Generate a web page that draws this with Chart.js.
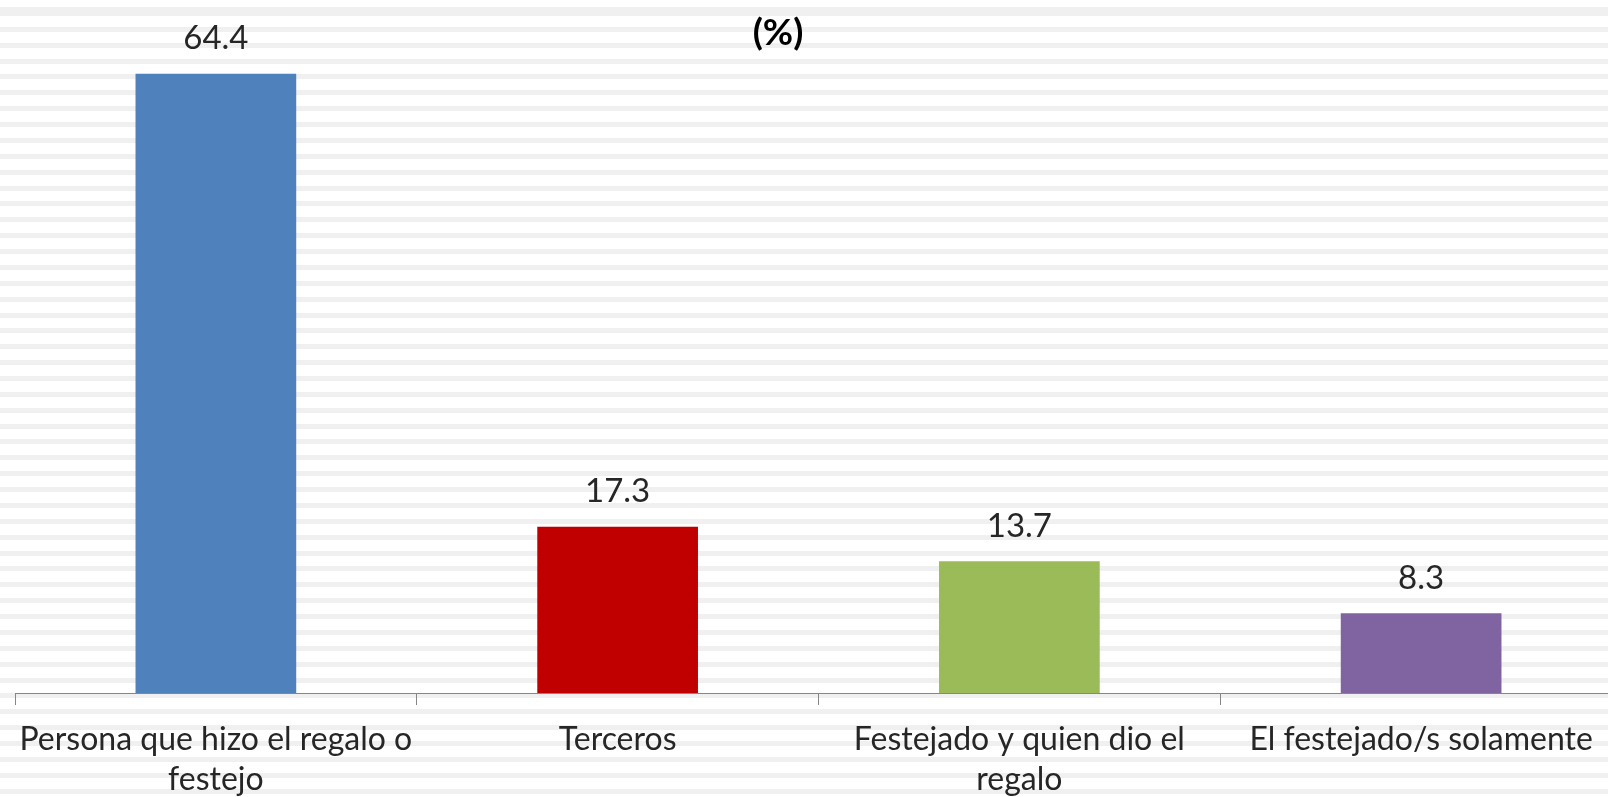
<!DOCTYPE html>
<html>
<head>
<meta charset="utf-8">
<script src="https://cdn.jsdelivr.net/npm/chart.js@4.4.0/dist/chart.umd.min.js"></script>
<style>
  html, body {
    margin: 0;
    padding: 0;
    width: 1608px;
    height: 797px;
    overflow: hidden;
    background-color: #fff;
    background-image: repeating-linear-gradient(to bottom, #f0f0f0 0px, #f0f0f0 5px, #fff 5px, #fff 15.87px);
    background-position: 0 11px;
  }
  #wrap { position: absolute; left: 0; top: 0; width: 1640px; height: 797px; }
</style>
</head>
<body>
<div id="wrap"><canvas id="barChart" width="1640" height="797"></canvas></div>
<script>
var categories = [
    ["Persona que hizo el regalo o", "festejo"],
    "Terceros",
    ["Festejado y quien dio el", "regalo"],
    "El festejado/s solamente"
];
var values = [64.4, 17.3, 13.7, 8.3];
var barColors = ["#4F81BD", "#C00000", "#9BBB59", "#8064A2"];
var chartTitle = "(%)";

var textColor = "#262626";
var fontFamily = "Lato, 'Open Sans', sans-serif";

// value labels above each bar
var valueLabels = {
    id: "valueLabels",
    afterDatasetsDraw: function (chart) {
        var ctx = chart.ctx;
        var meta = chart.getDatasetMeta(0);
        ctx.save();
        ctx.font = "33px " + fontFamily;
        ctx.fillStyle = textColor;
        ctx.textAlign = "center";
        ctx.textBaseline = "middle";
        meta.data.forEach(function (bar, i) {
            ctx.fillText(values[i].toFixed(1), bar.x, bar.y - 35);
        });
        ctx.restore();
    }
};

// small bold title, sits off-centre like the original
var topTitle = {
    id: "topTitle",
    afterDraw: function (chart) {
        var ctx = chart.ctx;
        ctx.save();
        ctx.font = "bold 37px " + fontFamily;
        ctx.fillStyle = "#000";
        ctx.textAlign = "center";
        ctx.textBaseline = "middle";
        ctx.fillText(chartTitle, 778, 33);
        ctx.restore();
    }
};

var ctx = document.getElementById("barChart").getContext("2d");
new Chart(ctx, {
    type: "bar",
    data: {
        labels: categories,
        datasets: [{
            data: values,
            backgroundColor: barColors,
            barPercentage: 0.4,
            categoryPercentage: 1.0
        }]
    },
    options: {
        responsive: false,
        animation: false,
        layout: { padding: { left: 15, right: 18, top: 20, bottom: 0 } },
        plugins: {
            legend: { display: false },
            tooltip: { enabled: false }
        },
        scales: {
            x: {
                offset: true,
                grid: {
                    offset: true,
                    drawOnChartArea: false,
                    tickLength: 12,
                    color: "#868686",
                    lineWidth: 1
                },
                border: { color: "#868686", width: 1 },
                ticks: {
                    color: textColor,
                    padding: 15,
                    maxRotation: 0,
                    autoSkip: false,
                    font: { family: fontFamily, size: 32, lineHeight: "40px" }
                },
                afterFit: function (scale) { scale.height = 104; }
            },
            y: {
                display: false,
                min: 0,
                max: 70
            }
        }
    },
    plugins: [valueLabels, topTitle]
});
</script>
</body>
</html>
